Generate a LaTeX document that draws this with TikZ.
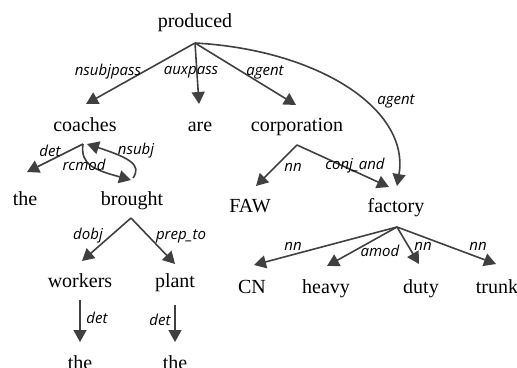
\documentclass[tikz,border=0pt]{standalone}
\usepackage{fontspec}
\setmainfont{Liberation Serif}
\newfontfamily\labfont{Open Sans}
\usetikzlibrary{arrows.meta}
\definecolor{arrowgray}{HTML}{404040}
\begin{document}
\begin{tikzpicture}[x=1pt,y=-1pt,
 word/.style={font=\fontsize{20}{24}\selectfont, anchor=base, inner sep=0pt},
 lab/.style={font=\labfont\itshape\fontsize{15}{18}\selectfont, inner sep=0pt, text=black},
 dep/.style={draw=arrowgray, line width=1.6pt, -{Triangle[length=12pt,width=13pt]}},
]
\useasboundingbox (0,0) rectangle (517,367);
% words
\node[word] (produced) at (195,27) {produced};
\node[word] (coaches) at (85,131) {coaches};
\node[word] (are) at (200,131) {are};
\node[word] (corporation) at (297,131) {corporation};
\node[word] (the1) at (25,205) {the};
\node[word] (brought) at (132,205) {brought};
\node[word] (FAW) at (250,212) {FAW};
\node[word] (factory) at (396,212) {factory};
\node[word] (workers) at (80,287) {workers};
\node[word] (plant) at (175,287) {plant};
\node[word] (CN) at (252,293) {CN};
\node[word] (heavy) at (326,293) {heavy};
\node[word] (duty) at (421,293) {duty};
\node[word] (trunk) at (497,293) {trunk};
\node[word] (the2) at (80,369) {the};
\node[word] (the3) at (175,369) {the};
% connector ends
\coordinate (produced-out) at (195,43);
\coordinate (coaches-in) at (86,104);
\coordinate (are-in) at (199,104);
\coordinate (corporation-in) at (296,105);
\coordinate (factory-in1) at (397,186);
\coordinate (coaches-out) at (83,144);
\coordinate (coaches-in2) at (87,144);
\coordinate (the1-in) at (27,172);
\coordinate (brought-in) at (131,180);
\coordinate (brought-out2) at (133,178);
\coordinate (brought-out) at (131,218);
\coordinate (workers-in) at (82,261);
\coordinate (plant-in) at (175,264);
\coordinate (workers-out) at (80,300);
\coordinate (the2-in) at (80,342);
\coordinate (plant-out) at (175,305);
\coordinate (the3-in) at (175,342);
\coordinate (corporation-out) at (297,145);
\coordinate (FAW-in) at (256,186);
\coordinate (factory-in2) at (389,187);
\coordinate (factory-out) at (397,227);
\coordinate (CN-in) at (254,265);
\coordinate (heavy-in) at (327,266);
\coordinate (duty-in) at (419,264);
\coordinate (trunk-in) at (496,264);
% connectors
\draw[dep] (produced-out) -- (coaches-in);
\draw[dep] (produced-out) -- (are-in);
\draw[dep] (produced-out) -- (corporation-in);
\draw[dep] (produced-out) .. controls (320,50) and (410,110) .. (factory-in1);
\draw[dep] (coaches-out) -- (the1-in);
\draw[dep] (coaches-out) .. controls (80,165) and (95,170) .. (brought-in);
\draw[dep] (brought-out2) .. controls (142,165) and (130,158) .. (coaches-in2);
\draw[dep] (brought-out) -- (workers-in);
\draw[dep] (brought-out) -- (plant-in);
\draw[dep] (workers-out) -- (the2-in);
\draw[dep] (plant-out) -- (the3-in);
\draw[dep] (corporation-out) -- (FAW-in);
\draw[dep] (corporation-out) -- (factory-in2);
\draw[dep] (factory-out) -- (CN-in);
\draw[dep] (factory-out) -- (heavy-in);
\draw[dep] (factory-out) -- (duty-in);
\draw[dep] (factory-out) -- (trunk-in);
% labels
\node[lab] (l1) at (108,72) {nsubjpass};
\node[lab] (l2) at (191,72) {auxpass};
\node[lab] (l3) at (265,72) {agent};
\node[lab] (l4) at (396,101) {agent};
\node[lab] (l5) at (50,151) {det};
\node[lab] (l6) at (84,165) {rcmod};
\node[lab] (l7) at (136,151) {nsubj};
\node[lab] (l8) at (88,236) {dobj};
\node[lab] (l9) at (181,236) {prep\_to};
\node[lab] (l10) at (97,318) {det};
\node[lab] (l11) at (160,320) {det};
\node[lab] (l12) at (293,167) {nn};
\node[lab] (l13) at (355,166) {conj\_and};
\node[lab] (l14) at (293,246) {nn};
\node[lab] (l15) at (380,251) {amod};
\node[lab] (l16) at (423,246) {nn};
\node[lab] (l17) at (478,246) {nn};
\end{tikzpicture}
\end{document}
